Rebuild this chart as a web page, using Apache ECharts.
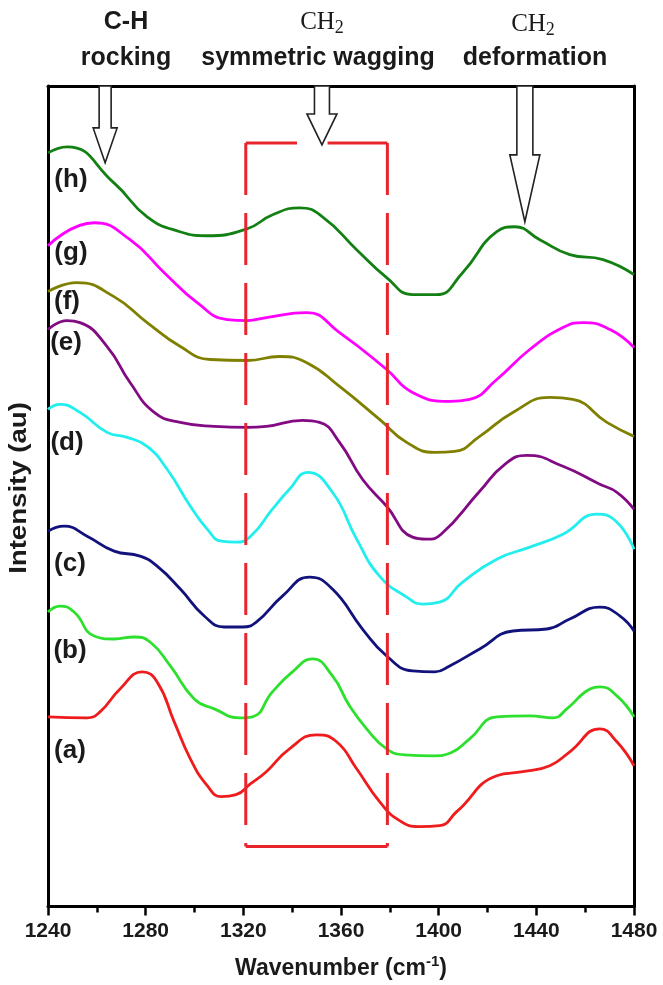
<!DOCTYPE html>
<html><head><meta charset="utf-8">
<script src="https://cdn.jsdelivr.net/npm/echarts@6/dist/echarts.min.js"></script>
<style>html,body{margin:0;padding:0;background:#fff}#c{width:663px;height:985px}</style>
</head><body><div id="c"></div>
<script>
// ---- data (x: wavenumber cm-1, y: intensity in arbitrary units, offset stacked) ----
const seriesNames = ['(a)','(b)','(c)','(d)','(e)','(f)','(g)','(h)'];
const seriesColors = ['#ee1c1c','#2ee02e','#12127c','#22eeee','#820a82','#808000','#ff00ff','#138013'];
const serA = [[1240,197],[1256,196],[1261.3,202],[1269.5,225],[1278.6,242],[1284.7,232],[1291.7,192],[1298.3,155],[1305.2,128],[1311,117],[1317,119],[1323,130],[1329.4,142],[1338.9,165],[1350,179],[1358.2,172],[1366.4,145],[1375.8,112],[1384,93],[1392.2,87],[1400.4,88],[1407.4,102],[1423.8,138],[1434.5,142],[1445.5,148],[1453.7,162],[1466,185],[1473,172],[1480,148]];
const serB = [[1240,302],[1244.9,308],[1250.7,302],[1258.9,278],[1267.1,275],[1275.3,277],[1281.8,272],[1290.1,248],[1299.9,215],[1308.1,205],[1318.4,196],[1323.7,197],[1331.9,222],[1340.1,242],[1348.3,255],[1356.5,238],[1363.5,208],[1370.5,185],[1378.7,165],[1386,159],[1398,158],[1405,161],[1412.7,175],[1423.8,197],[1437.3,198],[1446.8,196],[1452.5,205],[1462,225],[1466,227],[1473,218],[1480,197]];
const serC = [[1240,383],[1246.6,388],[1256,378],[1267.1,363],[1277.7,358],[1284.7,348],[1294.2,325],[1304,298],[1312.2,287],[1319.6,287],[1325.3,292],[1336,318],[1347.1,337],[1356.5,325],[1368.8,285],[1378.7,258],[1389.3,243],[1398.4,242],[1404.5,248],[1416.8,265],[1430.4,283],[1444.3,285],[1453.7,295],[1466,307],[1474.3,298],[1480,283]];
const serD = [[1240,505],[1244.9,510],[1253.1,502],[1264.2,482],[1272.4,477],[1280.6,468],[1288.8,445],[1298.3,408],[1305.2,385],[1311,373],[1317,372],[1323,378],[1331.9,405],[1338.9,425],[1346.3,442],[1356.5,422],[1366.4,375],[1375.8,338],[1386.9,317],[1393.4,310],[1400.4,312],[1409.8,332],[1423.8,355],[1437.3,367],[1450.9,380],[1464.8,400],[1473,392],[1480,365]];
const serE = [[1240,585],[1247.8,594],[1253.1,592],[1264.2,568],[1273.6,532],[1283.5,502],[1294.2,492],[1308.1,488],[1321.6,487],[1329.4,488],[1344.2,494],[1351.2,492],[1359.4,472],[1368.8,435],[1378.7,408],[1389.3,377],[1395,375],[1401,380],[1416.8,423],[1427.1,450],[1436.1,459],[1450.9,448],[1466,430],[1473,422],[1480,405]];
const serF = [[1240,623],[1251.9,632],[1267,618],[1280.6,592],[1294.2,568],[1306.5,555],[1321.6,554],[1334.8,558],[1345.8,552],[1359.4,528],[1375.8,495],[1386.9,472],[1398.4,462],[1406.6,463],[1416.8,478],[1430.4,502],[1445.5,517],[1455,515],[1468.9,492],[1480,478]];
const serG = [[1240,669],[1258.9,692],[1273.6,675],[1287.6,642],[1301.1,612],[1313.4,595],[1321.6,594],[1329.4,597],[1345.8,602],[1359.4,582],[1378.7,545],[1389.3,522],[1404.5,513],[1412.7,515],[1423.8,535],[1437.3,565],[1450.9,587],[1459.1,592],[1470.2,585],[1480,567]];
const serH = [[1240,762],[1247.8,768],[1267,732],[1280.6,698],[1294,683],[1305,679],[1321.6,686],[1332,700],[1343,707],[1352.4,698],[1366.4,665],[1378.7,637],[1389.3,620],[1399.2,620],[1409.8,642],[1423.8,683],[1431.2,688],[1441.4,675],[1453.7,660],[1467.3,655],[1480,640]];
const allSeries = [serA, serB, serC, serD, serE, serF, serG, serH];
// label anchor positions (wavenumber, intensity)
const labelPos = [[1249,163],[1249,263],[1249,350],[1247.8,472],[1247.4,572],[1247.8,613],[1249.4,662],[1249.4,735]];
// annotation: dashed box edges (wavenumbers) and its vertical extent
const boxX = [1321, 1379];
const boxY = [67, 772];
const boxGap = [1342, 1354.5];
// annotation arrows: centre wavenumber, shaft end and tip intensity
const arrows = [
  {wn:1263.4, shaftEnd:787, tip:752, sw:6, hw:12},
  {wn:1352.2, shaftEnd:801, tip:770, sw:7.5, hw:15},
  {wn:1435.3, shaftEnd:760, tip:693, sw:8, hw:15}
];
const X_MIN = 1240, X_MAX = 1480, X_STEP = 40;
const Y_MIN = 7, Y_MAX = 829;

const chart = echarts.init(document.getElementById('c'), null, {renderer:'canvas'});
const FF = '"Liberation Sans", Arial, sans-serif';

const lineSeries = allSeries.map((d, i) => ({
  type:'line', name:seriesNames[i], data:d, smooth:0.5, showSymbol:false, symbol:'none',
  lineStyle:{color:seriesColors[i], width:2.8}, itemStyle:{color:seriesColors[i]}, z:3, silent:true
}));
const red = '#e8242c';
const boxSeries = [
  {data:[[boxX[0],boxY[1]],[boxX[0],boxY[0]]], dash:[52,18]},
  {data:[[boxX[1],boxY[1]],[boxX[1],boxY[0]]], dash:[52,18]},
  {data:[[boxX[0],boxY[0]],[boxX[1],boxY[0]]], dash:'solid'},
  {data:[[boxX[0],boxY[1]],[boxGap[0],boxY[1]]], dash:'solid'},
  {data:[[boxGap[1],boxY[1]],[boxX[1],boxY[1]]], dash:'solid'}
].map(s => ({type:'line', data:s.data, showSymbol:false, symbol:'none', silent:true, z:5,
  lineStyle:{color:red, width:3, type:s.dash}}));

chart.setOption({
  animation:false,
  backgroundColor:'#fff',
  grid:{left:48, right:29, top:86, bottom:77},
  xAxis:[{
    type:'value', min:X_MIN, max:X_MAX, interval:X_STEP, position:'bottom',
    axisLine:{show:true, onZero:false, lineStyle:{color:'#000', width:3}},
    axisTick:{show:true, length:9, lineStyle:{color:'#000', width:2.5}},
    minorTick:{show:true, splitNumber:2, length:6, lineStyle:{color:'#000', width:2.5}},
    splitLine:{show:false}, minorSplitLine:{show:false},
    axisLabel:{fontSize:21, fontWeight:'bold', color:'#1a1a1a', margin:14, fontFamily:FF,
      formatter:(v) => String(v)},
    name:'{n|Wavenumber (cm}{s|-1}{n|)}', nameLocation:'middle', nameGap:48,
    nameTextStyle:{fontFamily:FF, rich:{
      n:{fontSize:23, fontWeight:'bold', color:'#1a1a1a', lineHeight:28, fontFamily:FF},
      s:{fontSize:15, fontWeight:'bold', color:'#1a1a1a', lineHeight:15, verticalAlign:'top', fontFamily:FF}
    }}
  },{
    type:'value', min:X_MIN, max:X_MAX, position:'top',
    axisLine:{show:true, onZero:false, lineStyle:{color:'#000', width:3}},
    axisTick:{show:false}, axisLabel:{show:false}, splitLine:{show:false}
  }],
  yAxis:[{
    type:'value', min:Y_MIN, max:Y_MAX, position:'left',
    axisLine:{show:true, onZero:false, lineStyle:{color:'#000', width:3}},
    axisTick:{show:false}, axisLabel:{show:false}, splitLine:{show:false}
  },{
    type:'value', min:Y_MIN, max:Y_MAX, position:'right',
    axisLine:{show:true, onZero:false, lineStyle:{color:'#000', width:3}},
    axisTick:{show:false}, axisLabel:{show:false}, splitLine:{show:false}
  }],
  series: lineSeries.concat(boxSeries)
});

const toPx = (p) => chart.convertToPixel({xAxisIndex:0, yAxisIndex:0}, p);
const topPx = toPx([X_MIN, Y_MAX])[1];
const g = [];
arrows.forEach(a => {
  const c = toPx([a.wn, a.shaftEnd]);
  const t = toPx([a.wn, a.tip]);
  const cx = c[0], se = c[1];
  g.push({type:'polygon', z:10, shape:{points:[
    [cx-a.sw, topPx],[cx-a.sw, se],[cx-a.hw, se],[cx, t[1]],[cx+a.hw, se],[cx+a.sw, se],[cx+a.sw, topPx]
  ]}, style:{fill:'#fff', stroke:'#222', lineWidth:1.6}});
});
labelPos.forEach((p, i) => {
  const q = toPx(p);
  g.push({type:'text', x:q[0], y:q[1], z:10, style:{text:seriesNames[i], fontSize:26, fontWeight:'bold',
    fontFamily:FF, fill:'#1a1a1a', align:'center', verticalAlign:'middle', textAlign:'center', textVerticalAlign:'middle'}});
});
const hdr = (text, x, y, extra) => Object.assign({type:'text', x, y, z:10, style:Object.assign({text, fontSize:25, fontWeight:'bold',
  fontFamily:FF, fill:'#1a1a1a', align:'center', verticalAlign:'middle', textAlign:'center', textVerticalAlign:'middle'}, extra || {})});
const serifRich = {fontWeight:'normal', rich:{
  m:{fontSize:25, fontFamily:'"Liberation Serif", "Times New Roman", serif', fill:'#1a1a1a', lineHeight:30},
  s:{fontSize:18, fontFamily:'"Liberation Serif", "Times New Roman", serif', fill:'#1a1a1a', lineHeight:18, verticalAlign:'bottom'}
}};
g.push(hdr('C-H', 126, 22));
g.push(hdr('rocking', 126, 58));
g.push(hdr('{m|CH}{s|2}', 322, 22, serifRich));
g.push(hdr('symmetric wagging', 318, 58));
g.push(hdr('{m|CH}{s|2}', 533, 24, serifRich));
g.push(hdr('deformation', 535, 58));
g.push({type:'text', x:20, y:488, rotation:Math.PI/2, scaleX:1.2, z:10, style:{text:'Intensity (au)', fontSize:23, fontWeight:'bold',
  fontFamily:FF, fill:'#1a1a1a', align:'center', verticalAlign:'middle', textAlign:'center', textVerticalAlign:'middle'}});
chart.setOption({graphic:g});
</script></body></html>
